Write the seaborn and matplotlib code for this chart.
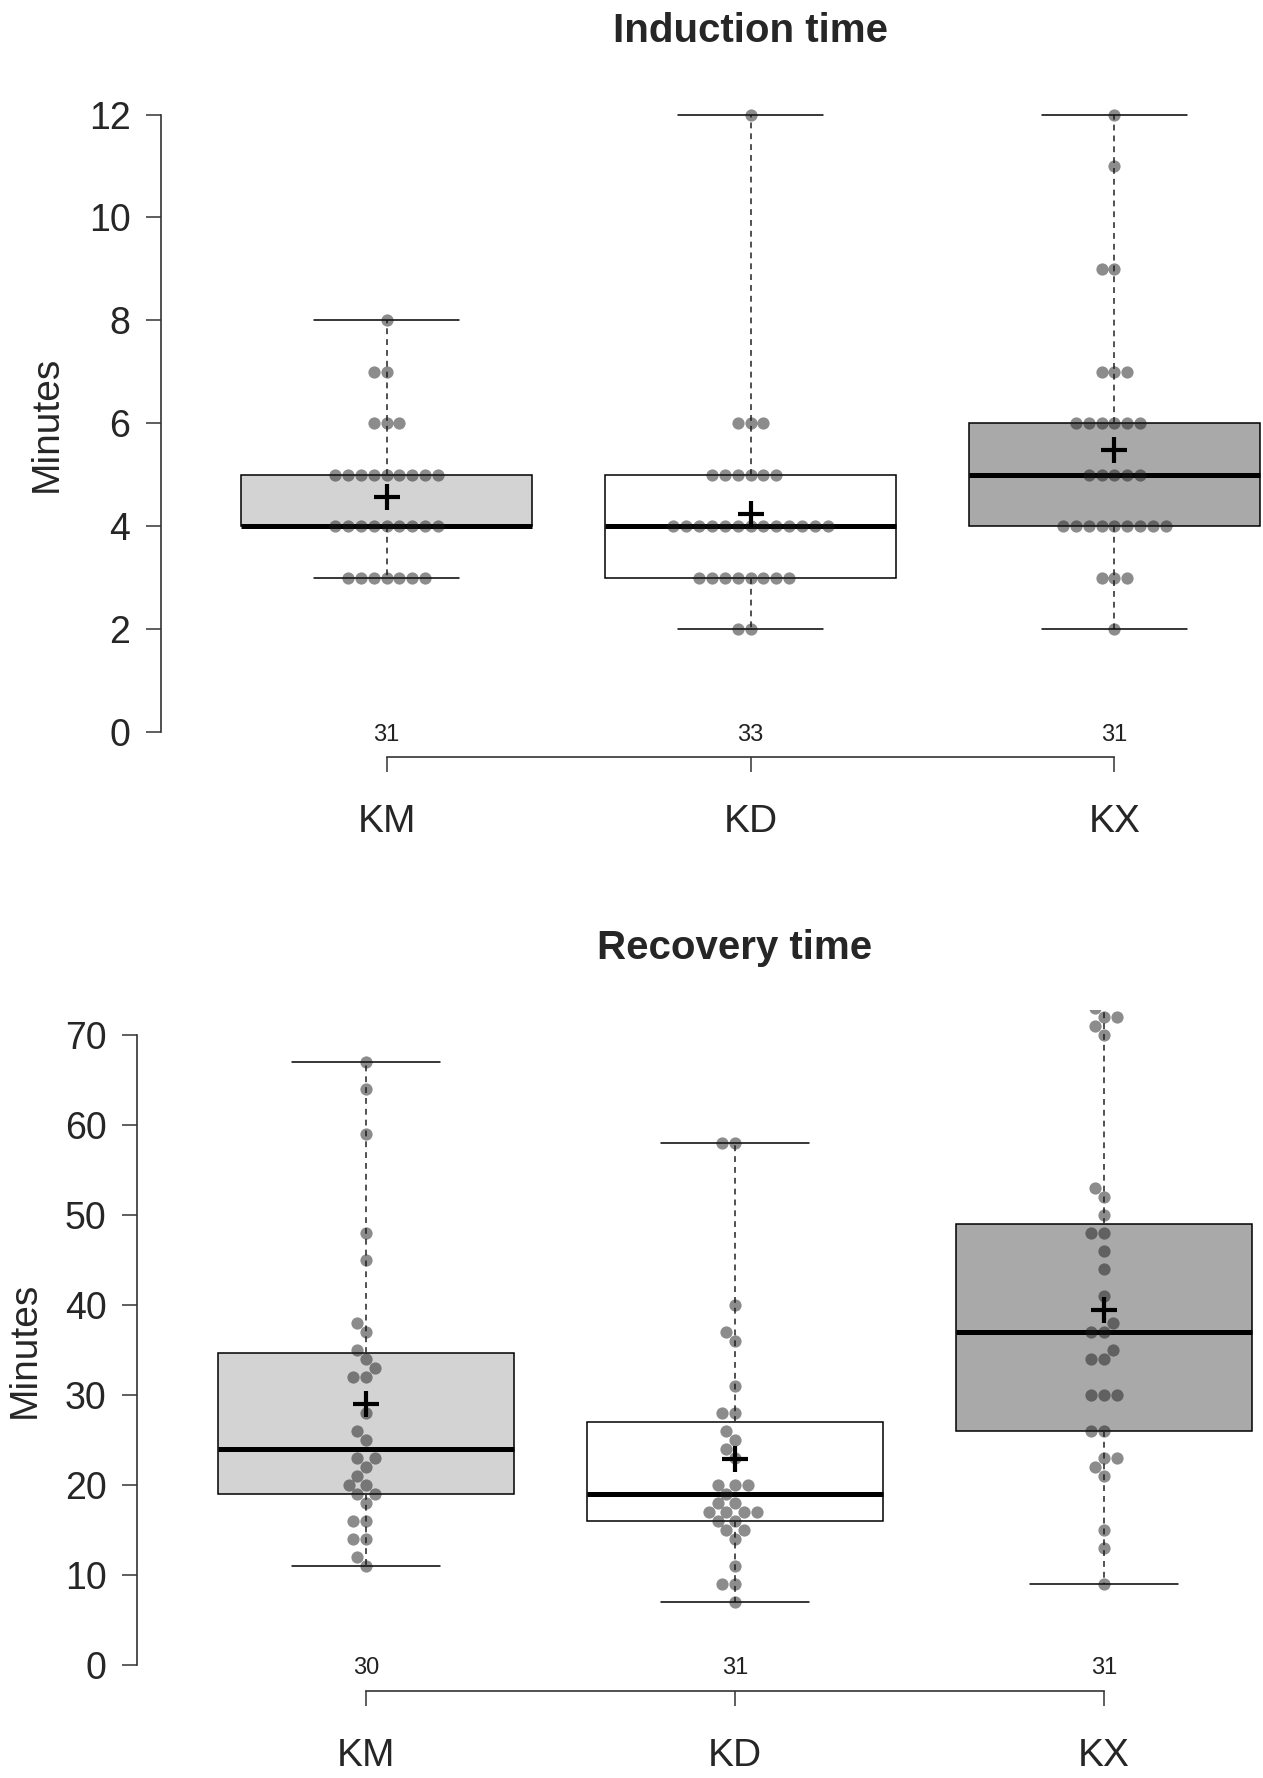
import matplotlib
matplotlib.use("Agg")
import matplotlib.pyplot as plt
import numpy as np
import pandas as pd
import seaborn as sns

# ---------------- data ----------------
groups = ["KM", "KD", "KX"]
box_colors = ["#d3d3d3", "#ffffff", "#a9a9a9"]

induction_KM = [8, 7, 7, 6, 6, 6,
                5, 5, 5, 5, 5, 5, 5, 5, 5,
                4, 4, 4, 4, 4, 4, 4, 4, 4,
                3, 3, 3, 3, 3, 3, 3]
induction_KD = [12, 6, 6, 6,
                5, 5, 5, 5, 5, 5,
                4, 4, 4, 4, 4, 4, 4, 4, 4, 4, 4, 4, 4,
                3, 3, 3, 3, 3, 3, 3, 3,
                2, 2]
induction_KX = [12, 11, 9, 9, 7, 7, 7,
                6, 6, 6, 6, 6, 6,
                5, 5, 5, 5, 5,
                4, 4, 4, 4, 4, 4, 4, 4, 4,
                3, 3, 3, 2]

recovery_KM = [67, 64, 59, 48, 45, 38, 37, 35, 34, 33, 32, 32, 28, 26, 25,
               23, 23, 22, 21, 20, 20, 19, 19, 18, 16, 16, 14, 14, 12, 11]
recovery_KD = [58, 58, 40, 37, 36, 31, 28, 28, 26, 25, 24, 23, 20, 20, 20,
               19, 18, 18, 17, 17, 17, 17, 16, 16, 15, 15, 14, 11, 9, 9, 7]
recovery_KX = [73, 72, 72, 71, 70, 53, 52, 50, 48, 48, 46, 44, 41, 38, 37,
               37, 35, 34, 34, 30, 30, 30, 26, 26, 23, 23, 22, 21, 15, 13, 9]

induction_title = "Induction time"
recovery_title = "Recovery time"
y_label = "Minutes"
induction_ticks = [0, 2, 4, 6, 8, 10, 12]
recovery_ticks = [0, 10, 20, 30, 40, 50, 60, 70]


def long_frame(values_by_group):
    rows = []
    for g, vals in zip(groups, values_by_group):
        for v in vals:
            rows.append({"group": g, "minutes": v})
    return pd.DataFrame(rows)


df_ind = long_frame([induction_KM, induction_KD, induction_KX])
df_rec = long_frame([recovery_KM, recovery_KD, recovery_KX])

# ---------------- style ----------------
sns.set_style("ticks")
plt.rcParams["font.family"] = ["Liberation Sans", "DejaVu Sans"]
axis_col = "#333333"

W, H = 1263, 1778
fig = plt.figure(figsize=(W / 100, H / 100), dpi=100)

# axes rectangles (pixel based)
ax1 = fig.add_axes([161 / W, 1 - 757.1 / H, (1340 - 161) / W, (757.1 - 89.8) / H])
ax2 = fig.add_axes([137 / W, 1 - 1690.7 / H, (1333 - 137) / W, (1690.7 - 1009.8) / H])


def draw_panel(ax, df, title, ticks, ylim, title_pad, label_x, xpad):
    pal = dict(zip(groups, box_colors))
    sns.boxplot(data=df, x="group", y="minutes", hue="group", order=groups,
                hue_order=groups, palette=pal, saturation=1, width=0.8,
                whis=(0, 100), linecolor="black", linewidth=1.1,
                showfliers=False, legend=False, dodge=False, ax=ax,
                medianprops=dict(linewidth=3.6, color="black"),
                whiskerprops=dict(linestyle=(0, (3.5, 3)), linewidth=1.2,
                                  color="#333333"),
                capprops=dict(linewidth=1.1),
                capwidths=0.4)
    sns.swarmplot(data=df, x="group", y="minutes", order=groups,
                  color="#1a1a1a", alpha=0.5, size=8.8, linewidth=0,
                  zorder=3, ax=ax)
    sns.pointplot(data=df, x="group", y="minutes", order=groups,
                  estimator="mean", errorbar=None, color="black",
                  markers="+", linestyle="none", markersize=19,
                  markeredgewidth=3.0, ax=ax, zorder=4)

    # sample sizes
    counts = df.groupby("group", sort=False)["minutes"].size()
    for i, g in enumerate(groups):
        ax.text(i, 0, str(counts[g]), ha="center", va="center_baseline",
                fontsize=17, color="#222222", zorder=5)

    ax.set_xlim(-0.62, 2.62)
    ax.set_ylim(*ylim)
    ax.set_yticks(ticks)
    ax.set_yticklabels([str(t) for t in ticks])
    ax.set_xticks(range(len(groups)))
    ax.set_xticklabels(groups)
    ax.set_xlabel("")
    ax.set_ylabel(y_label, fontsize=28, va="center")
    ax.yaxis.set_label_coords(label_x, 0.5)
    ax.set_title(title, fontsize=29, fontweight="bold", pad=title_pad)

    sns.despine(ax=ax)
    ax.spines["left"].set_bounds(ticks[0], ticks[-1])
    ax.spines["bottom"].set_bounds(0, len(groups) - 1)
    for s in ("left", "bottom"):
        ax.spines[s].set_color(axis_col)
        ax.spines[s].set_linewidth(1.2)
    ax.tick_params(axis="y", labelsize=27, length=11, width=1.1,
                   color=axis_col, pad=11)
    ax.tick_params(axis="x", labelsize=28, length=11, width=1.1,
                   color=axis_col, pad=xpad)
    ax.grid(False)
    ax.set_facecolor("white")


draw_panel(ax1, df_ind, induction_title, induction_ticks, (-0.48, 12.48), 34.7, -0.097, 23)
draw_panel(ax2, df_rec, recovery_title, recovery_ticks, (-2.8, 72.8), 36.5, -0.0936, 23)

fig.savefig("out.png", dpi=100, facecolor="white")
